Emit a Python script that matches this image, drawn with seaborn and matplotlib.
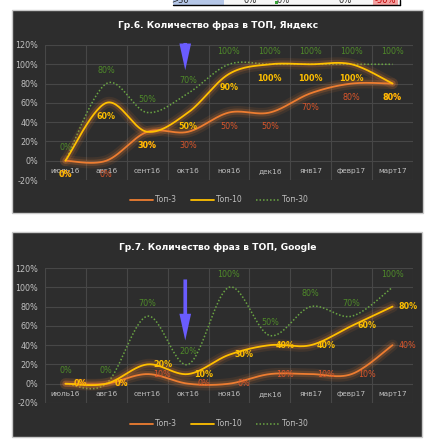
import numpy as np
import pandas as pd
import matplotlib
matplotlib.use("Agg")
import matplotlib.pyplot as plt
import matplotlib.patheffects as pe
from matplotlib.patches import Rectangle
from matplotlib.lines import Line2D
import seaborn as sns

# ---------------- data ----------------
months = ['июль16', 'авг16', 'сент16', 'окт16', 'ноя16', 'дек16', 'янв17', 'февр17', 'март17']
series_names = ['Топ-3', 'Топ-10', 'Топ-30']

ya_top3 = [0, 0, 30, 30, 50, 50, 70, 80, 80]
ya_top10 = [0, 60, 30, 50, 90, 100, 100, 100, 80]
ya_top30 = [0, 80, 50, 70, 100, 100, 100, 100, 100]

go_top3 = [0, 0, 10, 0, 0, 10, 10, 10, 40]
go_top10 = [0, 0, 20, 10, 30, 40, 40, 60, 80]
go_top30 = [0, 0, 70, 20, 100, 50, 80, 70, 100]

y_ticks = [-20, 0, 20, 40, 60, 80, 100, 120]
titles = ['Гр.6. Количество фраз в ТОП, Яндекс', 'Гр.7. Количество фраз в ТОП, Google']

# ---------------- style ----------------
sns.set_theme(style="dark")
plt.rcParams['font.family'] = ['DejaVu Sans']

BG = '#2d2d2d'
GRID = '#474747'
TICK = '#c0c0c0'
C3, C10, C30 = '#ED7D31', '#FFC000', '#6AA543'
L3, L10, L30 = '#D9562B', '#FFC000', '#4F8A2A'
ARROW = '#6a5cff'

W, H = 430, 442
fig = plt.figure(figsize=(W / 100, H / 100), dpi=100)
fig.patch.set_facecolor('white')


def fx(px):
    return px / W


def fy(py):
    return 1 - py / H


def smooth(vals, n=30):
    """Excel-like smoothed (Bezier) curve through the data points."""
    p = np.array(vals, dtype=float)
    x = np.arange(len(p), dtype=float)
    P = np.column_stack([x, p])
    ext = np.vstack([P[0], P, P[-1]])
    xs, ys = [], []
    t = np.linspace(0, 1, n)
    for i in range(len(P) - 1):
        p0, p1 = P[i], P[i + 1]
        c1 = p0 + (ext[i + 2] - ext[i]) / 6.0
        c2 = p1 - (ext[i + 3] - ext[i + 1]) / 6.0
        b = ((1 - t) ** 3)[:, None] * p0 + (3 * (1 - t) ** 2 * t)[:, None] * c1 \
            + (3 * (1 - t) * t ** 2)[:, None] * c2 + (t ** 3)[:, None] * p1
        xs.extend(b[:, 0]); ys.extend(b[:, 1])
    return np.array(xs), np.array(ys)


# table fragment at very top (cut off by the picture edge, as in the reference)
fig.add_artist(Rectangle((fx(173), fy(4.5)), fx(51), 4.5 / H, transform=fig.transFigure,
                         facecolor='#b4c6e7', edgecolor='none', zorder=1))
fig.add_artist(Rectangle((fx(224), fy(4.5)), fx(176), 4.5 / H, transform=fig.transFigure,
                         facecolor='#f7f7f7', edgecolor='none', zorder=1))
fig.add_artist(Rectangle((fx(373), fy(4.5)), fx(25), 4.5 / H, transform=fig.transFigure,
                         facecolor='#f4a0a0', edgecolor='none', zorder=1))
fig.add_artist(Line2D([fx(173), fx(400)], [fy(4.5), fy(4.5)], transform=fig.transFigure,
                      color='black', lw=1, zorder=2))
fig.add_artist(Line2D([fx(400), fx(400)], [fy(4.5), 1], transform=fig.transFigure,
                      color='black', lw=1, zorder=2))
for txt, xp, col in [('>30', 180, '#222222'), ('0%', 250, '#222222'), ('0%', 283, '#333333'),
                     ('0%', 345, '#222222'), ('-50%', 385, '#c00000')]:
    fig.text(fx(xp), fy(0.5), txt, ha='center', va='center', fontsize=6, color=col, zorder=3)
fig.add_artist(Rectangle((fx(275), fy(4)), fx(3), 3 / H, transform=fig.transFigure,
                         facecolor='#3aa53a', edgecolor='none', zorder=3))

charts = [
    dict(panel=(12, 10, 423, 213), plot=(45, 45, 413, 180), title_y=25, legend_y=200,
         data=[ya_top3, ya_top10, ya_top30], mode='below', arrow=(125, 91)),
    dict(panel=(12, 232, 422, 437), plot=(45, 268, 413, 403), title_y=248, legend_y=424,
         data=[go_top3, go_top10, go_top30], mode='right', arrow=(111, 42)),
]

for ci, ch in enumerate(charts):
    x0, y0, x1, y1 = ch['panel']
    fig.add_artist(Rectangle((fx(x0), fy(y1)), fx(x1 - x0), (y1 - y0) / H,
                             transform=fig.transFigure, facecolor=BG,
                             edgecolor='#c8c8c8', lw=1, zorder=-1))
    fig.text(fx(218), fy(ch['title_y']), titles[ci], ha='center', va='center',
             fontsize=6.6, fontweight='bold', color='white')

    px0, py0, px1, py1 = ch['plot']
    ax = fig.add_axes([fx(px0), fy(py1), fx(px1 - px0), (py1 - py0) / H])
    ax.set_facecolor(BG)
    ax.set_xlim(-0.5, len(months) - 0.5)
    ax.set_ylim(-20, 120)

    # grid
    for v in y_ticks:
        ax.axhline(v, color=GRID, lw=0.8, zorder=0)
    for k in np.arange(-0.5, len(months), 1.0):
        ax.axvline(k, color=GRID, lw=0.8, zorder=0)

    vals3, vals10, vals30 = ch['data']

    # Top-30 dotted
    xs, ys = smooth(vals30)
    sns.lineplot(x=xs, y=ys, ax=ax, color=C30, lw=1.1, linestyle=(0, (1, 1.3)),
                 estimator=None, sort=False, zorder=3)
    glow = [pe.Stroke(linewidth=8, foreground='#ED7D31', alpha=0.10),
            pe.Stroke(linewidth=4.5, foreground='#ED7D31', alpha=0.20), pe.Normal()]
    xs, ys = smooth(vals3)
    sns.lineplot(x=xs, y=ys, ax=ax, color=C3, lw=1.3, estimator=None, sort=False,
                 zorder=4, path_effects=glow)
    xs, ys = smooth(vals10)
    sns.lineplot(x=xs, y=ys, ax=ax, color=C10, lw=1.3, estimator=None, sort=False,
                 zorder=5, path_effects=glow)
    if ax.get_legend() is not None:
        ax.get_legend().remove()

    # data labels
    for i, v in enumerate(vals30):
        ax.annotate(f'{v}%', (i, v), xytext=(0, 9.5), textcoords='offset points',
                    ha='center', va='center', fontsize=5.8, color=L30, zorder=6)
    for vals, col in [(vals3, L3), (vals10, L10)]:
        for i, v in enumerate(vals):
            if ch['mode'] == 'below':
                off = (0, -10)
            else:
                off = (11, 0)
            ax.annotate(f'{v}%', (i, v), xytext=off, textcoords='offset points',
                        ha='center', va='center', fontsize=5.8, color=col,
                        fontweight='bold' if col == L10 else 'normal', zorder=7)

    # arrow
    a_top, a_tip = ch['arrow']
    ax.annotate('', xy=(2.93, a_tip), xytext=(2.93, a_top),
                arrowprops=dict(arrowstyle='simple,head_length=1.6,head_width=0.7,tail_width=0.22',
                                color=ARROW, lw=0),
                annotation_clip=False, zorder=8)

    # axes / ticks
    ax.set_yticks(y_ticks)
    ax.set_yticklabels([f'{v}%' for v in y_ticks])
    ax.set_xticks(range(len(months)))
    ax.set_xticklabels(months)
    ax.spines['bottom'].set_position(('data', 0))
    for s in ax.spines.values():
        s.set_visible(False)
    ax.tick_params(axis='y', length=0, pad=5, labelsize=5.8, labelcolor=TICK)
    ax.tick_params(axis='x', length=0, pad=5, labelsize=5.3, labelcolor=TICK)
    ax.grid(False)
    ax.set_xlabel('')
    ax.set_ylabel('')

    handles = [Line2D([], [], color=C3, lw=1.3),
               Line2D([], [], color=C10, lw=1.3),
               Line2D([], [], color=C30, lw=1.1, linestyle=(0, (1, 1.3)))]
    fig.legend(handles, series_names, loc='center', bbox_to_anchor=(fx(219), fy(ch['legend_y'])),
               ncol=3, frameon=False, fontsize=5.5, labelcolor=TICK, handlelength=3.0,
               handletextpad=0.3, columnspacing=1.8)

fig.savefig('out.png', dpi=100, facecolor='white')
